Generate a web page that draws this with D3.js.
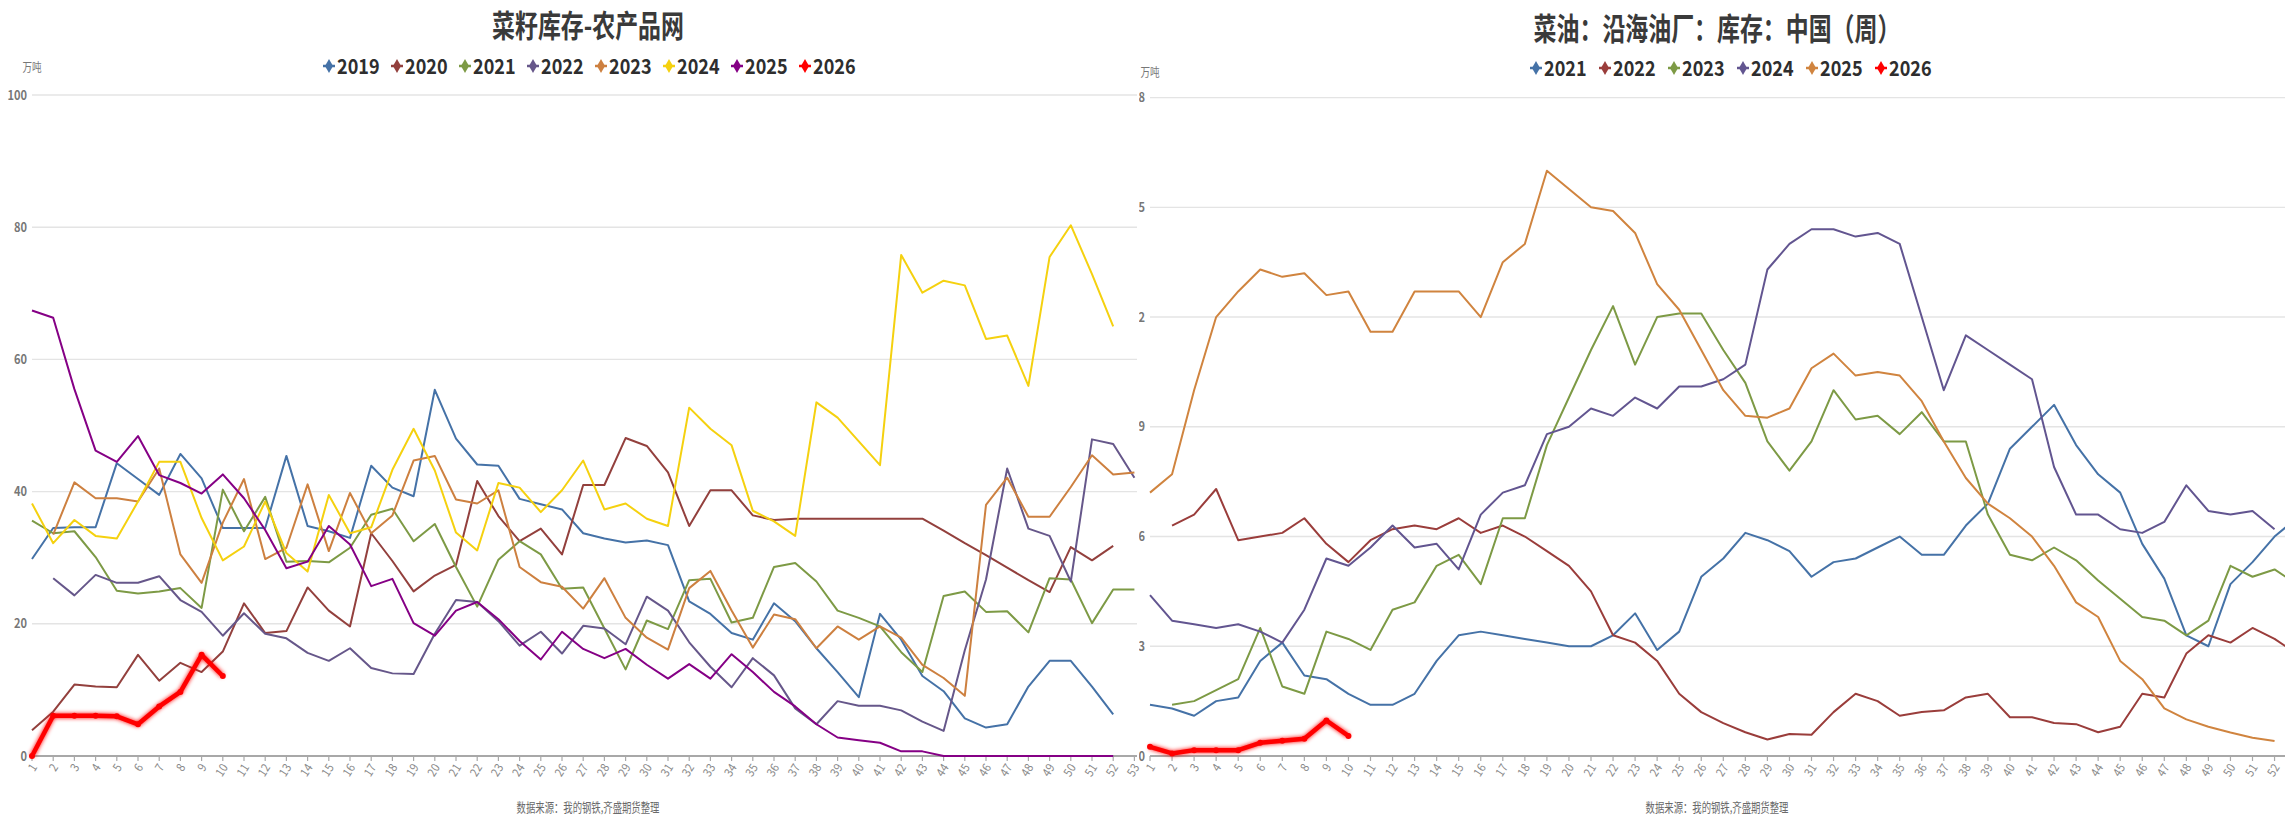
<!DOCTYPE html>
<html>
<head>
<meta charset="utf-8">
<script src="https://cdn.jsdelivr.net/npm/d3@7"></script>
<style>
html, body { margin: 0; padding: 0; background: #fff; }
svg { display: block; font-family: "Noto Sans CJK SC", "Noto Sans", sans-serif; }
</style>
</head>
<body>
<svg id="chart" width="2285" height="817"></svg>
<script>
// ---- data: 菜籽库存 (left) ----
const seedWeeks = d3.range(1, 54)
const seedYTicks = [0, 20, 40, 60, 80, 100]
const seedYears = ["2019", "2020", "2021", "2022", "2023", "2024", "2025", "2026"]
const seedColours = ["#4572A7", "#93403D", "#7D9A45", "#66578A", "#CD8040", "#F5D10F", "#850085", "#FF0000"]

const seed2019 = [29.8, 34.5, 34.6, 34.6, 44.3, 41.9, 39.5, 45.7, 42, 34.5, 34.5, 34.5, 45.4, 34.8, 34, 33, 43.9, 40.6, 39.3, 55.4,
    48, 44.1, 43.9, 38.9, 38.1, 37.3, 33.7, 32.9, 32.3, 32.6, 31.9, 23.4, 21.5, 18.6, 17.6, 23.1, 20.4, 16.3, 12.7, 8.9,
    21.5, 17.6, 12.1, 9.8, 5.7, 4.3, 4.8, 10.5, 14.4, 14.4, 10.5, 6.3]
const seed2020 = [3.9, 6.7, 10.8, 10.5, 10.4, 15.3, 11.4, 14.1, 12.7, 15.8, 23.1, 18.6, 18.9, 25.5, 22, 19.6, 33.7, 29.5, 24.9, 27.3,
    28.9, 41.6, 36.3, 32.5, 34.4, 30.5, 41, 41, 48.1, 46.9, 42.9, 34.8, 40.2, 40.2, 36.4, 35.7, 35.9, 35.9, 35.9, 35.9,
    35.9, 35.9, 35.9, 34.1, 32.2, 30.4, 28.5, 26.6, 24.8, 31.6, 29.6, 31.8]
const seed2021 = [35.6, 33.7, 34, 30.1, 25, 24.6, 24.9, 25.4, 22.4, 40.3, 34, 39.2, 29.4, 29.5, 29.3, 31.5, 36.5, 37.4, 32.5, 35.1,
    28.6, 22.6, 29.7, 32.5, 30.5, 25.3, 25.5, 19.3, 13.1, 20.5, 19.2, 26.6, 26.8, 20.2, 20.9, 28.6, 29.2, 26.4, 22, 20.9,
    19.6, 15.7, 12.7, 24.2, 24.9, 21.8, 21.9, 18.7, 26.9, 26.7, 20.1, 25.2, 25.2]
const seed2022 = [null, 26.9, 24.3, 27.4, 26.2, 26.2, 27.2, 23.6, 21.8, 18.2, 21.6, 18.5, 17.8, 15.6, 14.4, 16.3, 13.3, 12.5, 12.4, 18.5,
    23.6, 23.3, 20.4, 16.7, 18.8, 15.5, 19.7, 19.3, 16.9, 24.1, 22, 17.2, 13.5, 10.4, 14.8, 12.2, 7.2, 4.8, 8.3, 7.6,
    7.6, 6.9, 5.2, 3.8, 16, 26.7, 43.5, 34.4, 33.3, 26.4, 47.9, 47.2, 42.1]
const seed2023 = [null, 33.5, 41.4, 39, 39, 38.5, 43.5, 30.5, 26.2, 35.3, 41.9, 29.8, 31.5, 41.1, 31, 39.8, 33.7, 36.4, 44.7, 45.4,
    38.8, 38.2, 40.2, 28.6, 26.3, 25.6, 22.3, 26.9, 20.9, 17.9, 16.1, 25.4, 28, 22, 16.4, 21.4, 20.7, 16.3, 19.6, 17.6,
    19.6, 17.9, 13.8, 11.8, 9.1, 38, 42.1, 36.2, 36.2, 40.7, 45.5, 42.6, 42.9]
const seed2024 = [38.2, 32.2, 35.7, 33.3, 32.9, 38.5, 44.5, 44.5, 36, 29.6, 31.7, 38.5, 30.7, 27.9, 39.5, 33.7, 34.6, 43.3, 49.5, 43.2,
    33.8, 31.1, 41.3, 40.6, 36.9, 40.2, 44.7, 37.3, 38.2, 35.9, 34.8, 52.7, 49.5, 47, 37.1, 35.5, 33.3, 53.5, 51.2, 47.6,
    44, 75.8, 70.1, 71.9, 71.2, 63.1, 63.6, 56, 75.5, 80.3, 72.9, 65]
const seed2025 = [67.4, 66.3, 55.5, 46.2, 44.5, 48.4, 42.5, 41.3, 39.7, 42.6, 39, 34.2, 28.4, 29.4, 34.8, 32, 25.7, 26.8, 20.1, 18.2,
    22, 23.3, 20.7, 17.4, 14.6, 18.8, 16.2, 14.8, 16.2, 13.8, 11.7, 13.9, 11.7, 15.4, 12.7, 9.7, 7.5, 4.8, 2.8, 2.4,
    2, 0.7, 0.7, 0, 0, 0, 0, 0, 0, 0, 0, 0]
const seed2026 = [0, 6.1, 6.1, 6.1, 6, 4.8, 7.5, 9.7, 15.3, 12.1]

// ---- data: 菜油 沿海油厂库存 (right) ----
const oilWeeks = d3.range(1, 54)
const oilLabelWeeks = d3.range(1, 53)
const oilYTicks = [0, 3, 6, 9, 12, 15, 18]
const oilYears = ["2021", "2022", "2023", "2024", "2025", "2026"]
const oilColours = ["#4572A7", "#9A3D3B", "#7D9A45", "#625590", "#D0843F", "#FF0000"]

const oil2021 = [1.4, 1.3, 1.1, 1.5, 1.6, 2.6, 3.1, 2.2, 2.1, 1.7, 1.4, 1.4, 1.7, 2.6, 3.3, 3.4, 3.3, 3.2, 3.1, 3,
    3, 3.3, 3.9, 2.9, 3.4, 4.9, 5.4, 6.1, 5.9, 5.6, 4.9, 5.3, 5.4, 5.7, 6, 5.5, 5.5, 6.3, 6.9, 8.4,
    9, 9.6, 8.5, 7.7, 7.2, 5.8, 4.85, 3.3, 3, 4.7, 5.3, 6, 6.5]
const oil2022 = [null, 6.3, 6.6, 7.3, 5.9, 6, 6.1, 6.5, 5.8, 5.3, 5.9, 6.2, 6.3, 6.2, 6.5, 6.1, 6.3, 6, 5.6, 5.2,
    4.5, 3.3, 3.1, 2.6, 1.7, 1.2, 0.9, 0.65, 0.45, 0.6, 0.58, 1.2, 1.7, 1.5, 1.1, 1.2, 1.25, 1.6, 1.7, 1.06,
    1.06, 0.9, 0.87, 0.65, 0.8, 1.7, 1.6, 2.8, 3.3, 3.1, 3.5, 3.2, 2.8]
const oil2023 = [null, 1.4, 1.5, 1.8, 2.1, 3.5, 1.9, 1.7, 3.4, 3.2, 2.9, 4, 4.2, 5.2, 5.5, 4.7, 6.5, 6.5, 8.5, 9.8,
    11.1, 12.3, 10.7, 12, 12.1, 12.1, 11.1, 10.2, 8.6, 7.8, 8.6, 10, 9.2, 9.3, 8.8, 9.4, 8.6, 8.6, 6.6, 5.5,
    5.35, 5.7, 5.35, 4.8, 4.3, 3.8, 3.7, 3.3, 3.7, 5.2, 4.9, 5.1, 4.7]
const oil2024 = [4.4, 3.7, 3.6, 3.5, 3.6, 3.4, 3.1, 4, 5.4, 5.2, 5.7, 6.3, 5.7, 5.8, 5.1, 6.6, 7.2, 7.4, 8.8, 9,
    9.5, 9.3, 9.8, 9.5, 10.1, 10.1, 10.3, 10.7, 13.3, 14, 14.4, 14.4, 14.2, 14.3, 14, 12, 10, 11.5, 11.1, 10.7,
    10.3, 7.9, 6.6, 6.6, 6.2, 6.1, 6.4, 7.4, 6.7, 6.6, 6.7, 6.2]
const oil2025 = [7.2, 7.7, 10, 12, 12.7, 13.3, 13.1, 13.2, 12.6, 12.7, 11.6, 11.6, 12.7, 12.7, 12.7, 12, 13.5, 14, 16, 15.5,
    15, 14.9, 14.3, 12.9, 12.2, 11.1, 10, 9.3, 9.25, 9.5, 10.6, 11, 10.4, 10.5, 10.4, 9.7, 8.6, 7.6, 6.9, 6.5,
    6, 5.2, 4.2, 3.8, 2.6, 2.1, 1.3, 1, 0.8, 0.64, 0.5, 0.41]
const oil2026 = [0.25, 0.07, 0.16, 0.16, 0.16, 0.36, 0.42, 0.47, 0.97, 0.55]

const sourceText = "数据来源：我的钢铁,齐盛期货整理"

const svg = d3.select("#chart")
const defs = svg.append("defs")

// soft glow under the current-year line
const glow = defs.append("filter").attr("id", "glow")
    .attr("filterUnits", "userSpaceOnUse")
    .attr("x", 0).attr("y", 0).attr("width", 2285).attr("height", 817)
glow.append("feGaussianBlur").attr("in", "SourceGraphic").attr("stdDeviation", 2.2).attr("result", "b")
const merge = glow.append("feMerge")
merge.append("feMergeNode").attr("in", "b")
merge.append("feMergeNode").attr("in", "SourceGraphic")

const axisY = 756

function squashText(sel, x, y, sx, extra = "") {
    return sel.attr("transform", `translate(${x},${y}) ${extra} scale(${sx},1)`)
}

function drawPanel(g, o) {
    const x = d3.scalePoint().domain(o.weeks).range(o.xRange)
    const y = d3.scaleLinear().domain([0, o.yMax]).range([axisY, o.yTop])

    // grid
    g.append("g").selectAll("line")
        .data(o.yTicks.filter(d => d > 0)).enter().append("line")
        .attr("x1", o.gridX[0]).attr("x2", o.gridX[1])
        .attr("y1", d => y(d)).attr("y2", d => y(d))
        .attr("stroke", "#e4e4e4").attr("stroke-width", 1.4)

    // y labels
    g.append("g").selectAll("text")
        .data(o.yTicks).enter().append("text")
        .attr("text-anchor", "end").attr("dy", "0.35em")
        .attr("fill", "#777").attr("font-size", 13).attr("font-weight", 600)
        .each(function (d) { squashText(d3.select(this), o.yLabelX, y(d), 0.85) })
        .text(d => d)

    // x axis
    g.append("line").attr("x1", o.gridX[0]).attr("x2", o.gridX[1])
        .attr("y1", axisY).attr("y2", axisY)
        .attr("stroke", "#a8a8a8").attr("stroke-width", 2)
    g.append("g").selectAll("line")
        .data(o.labelWeeks).enter().append("line")
        .attr("x1", d => x(d)).attr("x2", d => x(d))
        .attr("y1", axisY).attr("y2", axisY + 5)
        .attr("stroke", "#a8a8a8").attr("stroke-width", 1.2)
    g.append("g").selectAll("text")
        .data(o.labelWeeks).enter().append("text")
        .attr("text-anchor", "end").attr("dy", "0.35em")
        .attr("fill", "#8a8a8a").attr("font-size", 12)
        .each(function (d) { squashText(d3.select(this), x(d) + 2, axisY + 9, 0.9, "rotate(-58)") })
        .text(d => d)

    // series
    const line = d3.line()
        .defined(d => d.v != null)
        .x(d => x(d.w)).y(d => y(d.v))
    o.series.forEach((s, i) => {
        const pts = s.map((v, k) => ({ w: k + 1, v }))
        const last = i === o.series.length - 1
        g.append("path").datum(pts)
            .attr("d", line)
            .attr("fill", "none")
            .attr("stroke", o.colours[i])
            .attr("stroke-width", last ? 4.5 : 2)
            .attr("stroke-linejoin", "round")
            .attr("filter", last ? "url(#glow)" : null)
        if (last) {
            g.append("g").selectAll("circle")
                .data(pts).enter().append("circle")
                .attr("cx", d => x(d.w)).attr("cy", d => y(d.v))
                .attr("r", 3).attr("fill", o.colours[i])
        }
    })

    // title
    g.append("text").attr("text-anchor", "middle").attr("dy", "0.35em")
        .attr("font-size", 31).attr("font-weight", 700).attr("fill", "#3a3a3a")
        .call(s => squashText(s, o.titleX, o.titleY, 0.74))
        .text(o.title)

    // legend
    const leg = g.append("g").selectAll("g")
        .data(o.years).enter().append("g")
        .attr("transform", (d, i) => `translate(${o.legendX + i * o.legendStep},${o.legendY})`)
    leg.append("line").attr("x1", 0).attr("x2", 12).attr("y1", 0).attr("y2", 0)
        .attr("stroke", (d, i) => o.colours[i]).attr("stroke-width", 2.5)
    leg.append("path").attr("d", "M6,-7L10,0L6,7L2,0Z")
        .attr("fill", (d, i) => o.colours[i])
    leg.append("text").attr("dy", "0.36em").attr("font-size", 21).attr("font-weight", 700)
        .attr("fill", "#2e2e2e")
        .call(s => squashText(s, 14, 0, 0.86))
        .text(d => d)

    // unit and source
    g.append("text").attr("text-anchor", "middle").attr("dy", "0.35em")
        .attr("font-size", 12).attr("fill", "#777")
        .call(s => squashText(s, o.unitX, o.unitY, 0.8))
        .text("万吨")
    g.append("text").attr("text-anchor", "middle").attr("dy", "0.35em")
        .attr("font-size", 13).attr("fill", "#6a6a6a")
        .call(s => squashText(s, o.titleX, 807, 0.72))
        .text(sourceText)
}

// right panel first, the left panel overlaps its tick labels
const rightG = svg.append("g")
drawPanel(rightG, {
    weeks: oilWeeks, labelWeeks: oilLabelWeeks,
    xRange: [1150, 1150 + 52 * 22.05], gridX: [1150, 2285],
    yMax: 18, yTop: 97.6, yTicks: oilYTicks, yLabelX: 1145,
    series: [oil2021, oil2022, oil2023, oil2024, oil2025, oil2026],
    colours: oilColours, years: oilYears,
    title: "菜油：沿海油厂：库存：中国（周）", titleX: 1717, titleY: 29,
    legendX: 1530, legendStep: 69, legendY: 68,
    unitX: 1150, unitY: 73
})

const leftG = svg.append("g")
leftG.append("rect").attr("x", 0).attr("y", 0).attr("width", 1139).attr("height", 817).attr("fill", "#fff")
drawPanel(leftG, {
    weeks: seedWeeks, labelWeeks: seedWeeks,
    xRange: [32, 32 + 52 * 21.2], gridX: [32, 1137],
    yMax: 100, yTop: 95, yTicks: seedYTicks, yLabelX: 27,
    series: [seed2019, seed2020, seed2021, seed2022, seed2023, seed2024, seed2025, seed2026],
    colours: seedColours, years: seedYears,
    title: "菜籽库存-农产品网", titleX: 588, titleY: 26,
    legendX: 323, legendStep: 68, legendY: 66,
    unitX: 32, unitY: 68
})
</script>
</body>
</html>
